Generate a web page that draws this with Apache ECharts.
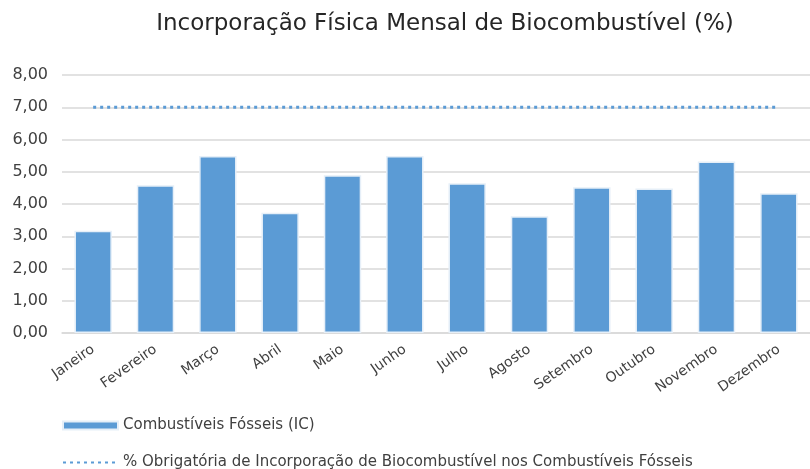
<!DOCTYPE html>
<html>
<head>
<meta charset="utf-8">
<script src="https://cdn.jsdelivr.net/npm/echarts@6/dist/echarts.min.js"></script>
<style>
  html, body { margin: 0; padding: 0; background: #fff; }
  #chart { width: 810px; height: 469px; }
</style>
</head>
<body>
<div id="chart"></div>
<script>
var meses = ['Janeiro', 'Fevereiro', 'Março', 'Abril', 'Maio', 'Junho',
             'Julho', 'Agosto', 'Setembro', 'Outubro', 'Novembro', 'Dezembro'];
var fosseis = [3.17, 4.58, 5.49, 3.73, 4.89, 5.49, 4.64, 3.62, 4.52, 4.48, 5.32, 4.33];
var obrigatoria = [7, 7, 7, 7, 7, 7, 7, 7, 7, 7, 7, 7];

var nomeBarra = 'Combustíveis Fósseis (IC)';
var nomeLinha = '% Obrigatória de Incorporação de Biocombustível nos Combustíveis Fósseis';

var fonte = 'DejaVu Sans, sans-serif';

function virgula(v) {
    return v.toFixed(2).replace('.', ',');
}

var myChart = echarts.init(document.getElementById('chart'));

var option = {
    backgroundColor: '#fff',
    animation: false,
    title: {
        text: 'Incorporação Física Mensal de Biocombustível (%)',
        left: 440,
        textAlign: 'center',
        top: 8,
        textStyle: { fontFamily: fonte, fontSize: 23, fontWeight: 'normal', color: '#262626' }
    },
    legend: {
        orient: 'vertical',
        left: 62,
        top: 418,
        height: 70,
        padding: 0,
        itemGap: 22,
        itemWidth: 55,
        itemHeight: 8,
        textStyle: { fontFamily: fonte, fontSize: 15, color: '#404040' },
        data: [
            { name: nomeBarra, icon: 'rect' },
            { name: nomeLinha, itemStyle: { opacity: 0 } }
        ]
    },
    grid: { left: 62, right: 0, top: 75, bottom: 136 },
    xAxis: {
        type: 'category',
        data: meses,
        axisTick: { show: false },
        axisLine: { lineStyle: { color: '#d9d9d9', width: 1.5 } },
        axisLabel: {
            rotate: 35,
            interval: 0,
            margin: 15,
            fontFamily: fonte,
            fontSize: 14,
            color: '#404040'
        }
    },
    yAxis: {
        type: 'value',
        min: 0,
        max: 8,
        interval: 1,
        axisLabel: {
            formatter: virgula,
            fontFamily: fonte,
            fontSize: 16,
            color: '#404040',
            margin: 14
        },
        splitLine: { lineStyle: { color: '#d9d9d9', width: 1.5 } }
    },
    series: [
        {
            name: nomeBarra,
            type: 'bar',
            data: fosseis,
            barWidth: '60%',
            itemStyle: { color: '#5b9bd5', borderColor: '#e6eff8', borderWidth: 1.5 }
        },
        {
            name: nomeLinha,
            type: 'line',
            data: obrigatoria,
            symbol: 'none',
            itemStyle: { color: '#5b9bd5' },
            lineStyle: { color: '#5b9bd5', type: [3, 4], width: 3 }
        }
    ]
};

myChart.setOption(option);
</script>
</body>
</html>
